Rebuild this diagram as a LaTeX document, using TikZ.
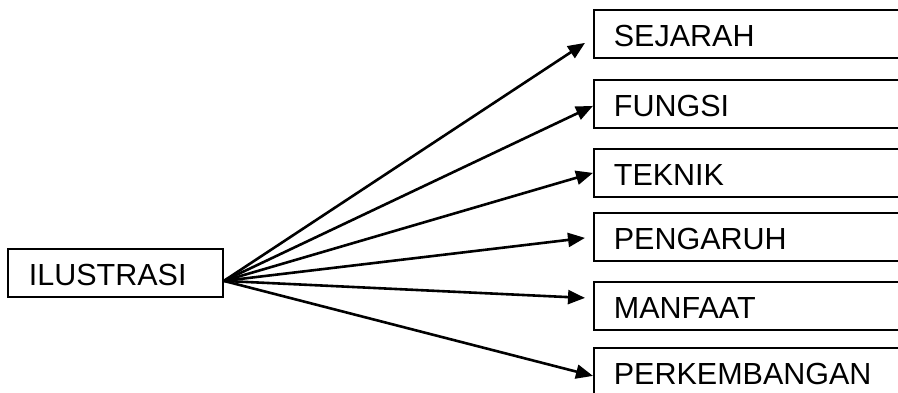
\documentclass[tikz,border=0pt]{standalone}
\usepackage{fontspec}
\setmainfont{Liberation Sans}
\usetikzlibrary{arrows.meta}
\begin{document}
\begin{tikzpicture}[x=1pt,y=-1pt,
  box/.style={draw=black,line width=1.8pt,anchor=north west,inner ysep=0pt,
    text height=37pt,text depth=11pt,align=left,
    font=\fontsize{30.5}{33}\selectfont},
  rbox/.style={box,inner xsep=20pt,text width=290pt},
  conn/.style={line width=2.6pt,-{Triangle[length=17pt,width=14pt]}}]
\useasboundingbox (0,0) rectangle (898,392);
\node[box,inner xsep=21pt,text width=173pt] (ilu) at (7,248) {ILUSTRASI};
\node[rbox] (sej) at (593,9) {SEJARAH};
\node[rbox] (fun) at (593,79) {FUNGSI};
\node[rbox] (tek) at (593,148) {TEKNIK};
\node[rbox] (pen) at (593,212) {PENGARUH};
\node[rbox] (man) at (593,281) {MANFAAT};
\node[rbox] (per) at (593,347) {PERKEMBANGAN};
\coordinate (src) at ([yshift=-8pt]ilu.east);
\draw[conn] (src) -- ([xshift=-8pt,yshift=-9pt]sej.west);
\draw[conn] (src) -- ([yshift=-2pt]fun.west);
\draw[conn] (src) -- (tek.west);
\draw[conn] (src) -- ([xshift=-8pt,yshift=-1pt]pen.west);
\draw[conn] (src) -- ([xshift=-8pt,yshift=8pt]man.west);
\draw[conn] (src) -- ([yshift=-4pt]per.west);
\end{tikzpicture}
\end{document}
